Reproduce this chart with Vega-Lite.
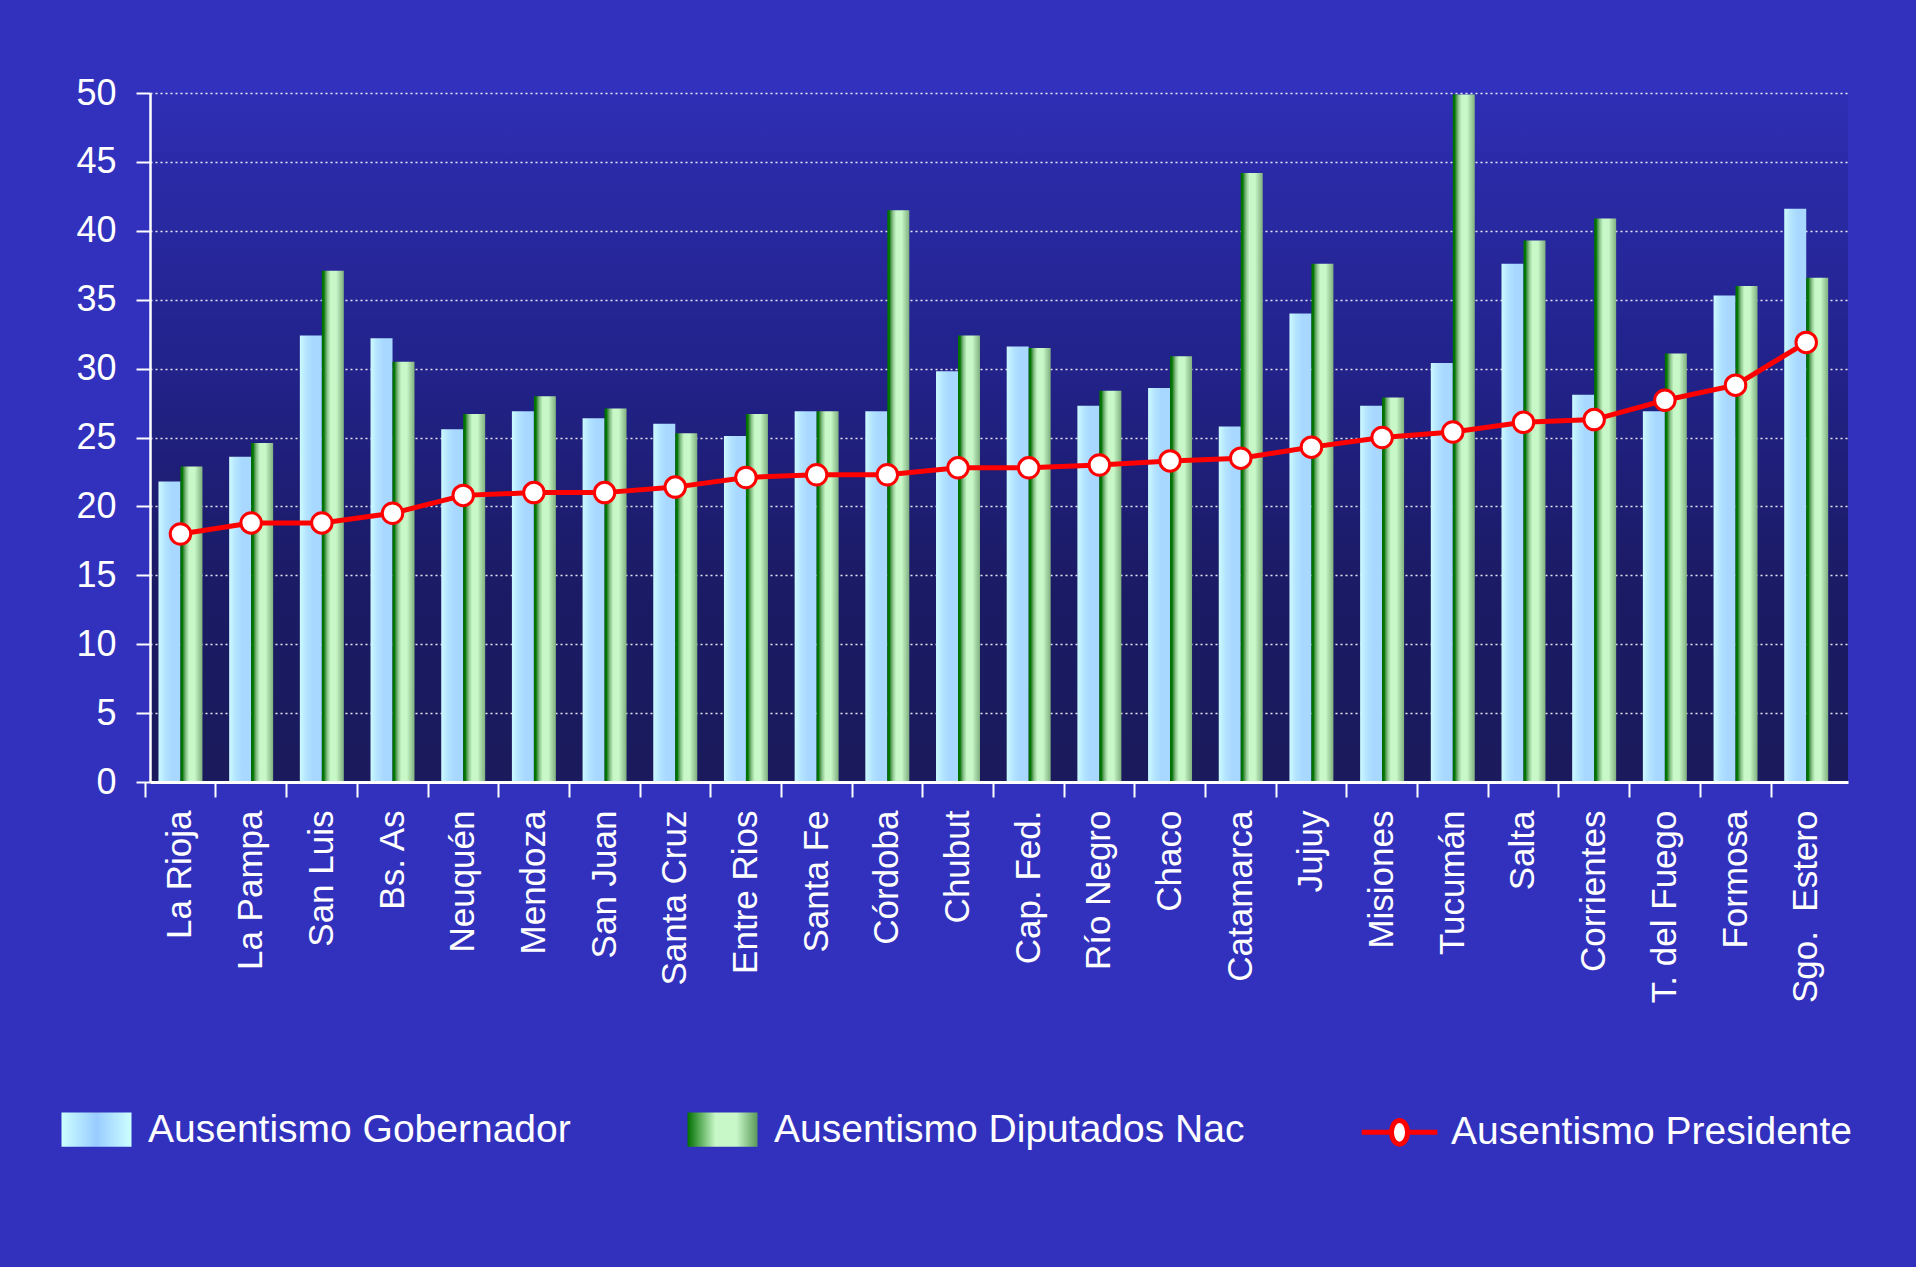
{
  "$schema": "https://vega.github.io/schema/vega-lite/v6.json",
  "width": 1698,
  "height": 689,
  "autosize": {"type": "none"},
  "padding": {"left": 150, "top": 93, "right": 68, "bottom": 485},
  "background": "#3131be",
  "config": {
    "font": "Liberation Sans",
    "view": {
      "stroke": null,
      "fill": {"gradient": "linear", "x1": 0, "y1": 0, "x2": 0, "y2": 1, "stops": [
        {"offset": 0, "color": "#2e2eb4"},
        {"offset": 0.4, "color": "#22228a"},
        {"offset": 0.7, "color": "#1b1b66"},
        {"offset": 1, "color": "#1a1a5c"}
      ]}
    }
  },
  "data": {
    "values": [
      {"prov": "La Rioja", "gob": 21.8, "dip": 22.9, "pres": 18.0},
      {"prov": "La Pampa", "gob": 23.6, "dip": 24.6, "pres": 18.8},
      {"prov": "San Luis", "gob": 32.4, "dip": 37.1, "pres": 18.8},
      {"prov": "Bs. As", "gob": 32.2, "dip": 30.5, "pres": 19.5},
      {"prov": "Neuquén", "gob": 25.6, "dip": 26.7, "pres": 20.8},
      {"prov": "Mendoza", "gob": 26.9, "dip": 28.0, "pres": 21.0},
      {"prov": "San Juan", "gob": 26.4, "dip": 27.1, "pres": 21.0},
      {"prov": "Santa Cruz", "gob": 26.0, "dip": 25.3, "pres": 21.4},
      {"prov": "Entre Rios", "gob": 25.1, "dip": 26.7, "pres": 22.1},
      {"prov": "Santa Fe", "gob": 26.9, "dip": 26.9, "pres": 22.3},
      {"prov": "Córdoba", "gob": 26.9, "dip": 41.5, "pres": 22.3},
      {"prov": "Chubut", "gob": 29.8, "dip": 32.4, "pres": 22.8},
      {"prov": "Cap. Fed.", "gob": 31.6, "dip": 31.5, "pres": 22.8},
      {"prov": "Río Negro", "gob": 27.3, "dip": 28.4, "pres": 23.0},
      {"prov": "Chaco", "gob": 28.6, "dip": 30.9, "pres": 23.3},
      {"prov": "Catamarca", "gob": 25.8, "dip": 44.2, "pres": 23.5},
      {"prov": "Jujuy", "gob": 34.0, "dip": 37.6, "pres": 24.3},
      {"prov": "Misiones", "gob": 27.3, "dip": 27.9, "pres": 25.0},
      {"prov": "Tucumán", "gob": 30.4, "dip": 49.9, "pres": 25.4},
      {"prov": "Salta", "gob": 37.6, "dip": 39.3, "pres": 26.1},
      {"prov": "Corrientes", "gob": 28.1, "dip": 40.9, "pres": 26.3},
      {"prov": "T. del Fuego", "gob": 26.9, "dip": 31.1, "pres": 27.7},
      {"prov": "Formosa", "gob": 35.3, "dip": 36.0, "pres": 28.8},
      {"prov": "Sgo.\u00a0 Estero", "gob": 41.6, "dip": 36.6, "pres": 31.9}
    ]
  },
  "encoding": {
    "x": {
      "field": "prov",
      "type": "nominal",
      "sort": null,
      "scale": {"paddingInner": 0.378, "paddingOuter": 0.2, "align": 0.3},
      "axis": {
        "title": null,
        "labelAngle": -90,
        "labelAlign": "right",
        "labelBaseline": "middle",
        "labelFont": "Liberation Sans",
        "labelFontSize": 35,
        "labelColor": "#ffffff",
        "labelPadding": 13,
        "labelLimit": 0,
        "tickSize": 15,
        "tickColor": "#ffffff",
        "tickWidth": 2,
        "bandPosition": -0.3,
        "domainColor": "#ffffff",
        "domainWidth": 3,
        "grid": false,
        "zindex": 1
      }
    }
  },
  "layer": [
    {
      "transform": [{"fold": ["gob", "dip"], "as": ["serie", "valor"]}],
      "mark": {"type": "bar"},
      "encoding": {
        "xOffset": {"field": "serie", "type": "nominal", "scale": {"domain": ["gob", "dip"], "paddingInner": 0, "paddingOuter": 0}},
        "y": {
          "field": "valor",
          "type": "quantitative",
          "scale": {"domain": [0, 50], "nice": false},
          "axis": {
            "title": null,
            "values": [0, 5, 10, 15, 20, 25, 30, 35, 40, 45, 50],
            "labelFont": "Liberation Sans",
            "labelFontSize": 36,
            "labelColor": "#ffffff",
            "labelPadding": 20,
            "tickSize": 14,
            "tickColor": "#ffffff",
            "tickWidth": 2,
            "domainColor": "#ffffff",
            "domainWidth": 2.5,
            "grid": true,
            "gridColor": "#ffffff",
            "gridDash": [2, 3],
            "gridWidth": 1.5,
            "gridOpacity": 0.9
          }
        },
        "fill": {
          "condition": {
            "test": "datum.serie === 'gob'",
            "value": {"gradient": "linear", "x1": 0, "y1": 0, "x2": 1, "y2": 0, "stops": [
              {"offset": 0, "color": "#ccfaff"},
              {"offset": 0.3, "color": "#b4e4ff"},
              {"offset": 0.6, "color": "#a8d8ff"},
              {"offset": 1, "color": "#a8d8ff"}
            ]}
          },
          "value": {"gradient": "linear", "x1": 0, "y1": 0, "x2": 1, "y2": 0, "stops": [
            {"offset": 0, "color": "#006c00"},
            {"offset": 0.1, "color": "#007a00"},
            {"offset": 0.14, "color": "#3c8c3c"},
            {"offset": 0.26, "color": "#90c890"},
            {"offset": 0.4, "color": "#c8f8c8"},
            {"offset": 0.65, "color": "#c8f8c8"},
            {"offset": 0.8, "color": "#a8d8a8"},
            {"offset": 1, "color": "#80b080"}
          ]}
        },
        "opacity": {
          "field": "serie",
          "type": "nominal",
          "scale": {"type": "ordinal", "domain": ["gob", "dip", "pres"], "range": [1, 1, 1]},
          "legend": {
            "title": null,
            "orient": "none",
            "legendX": -91,
            "legendY": 999,
            "direction": "horizontal",
            "padding": 0,
            "labelFont": "Liberation Sans",
            "labelFontSize": 39,
            "labelColor": "#ffffff",
            "labelOffset": 14,
            "labelLimit": 0,
            "columnPadding": 106,
            "symbolSize": 4900,
            "labelExpr": "datum.value == 'gob' ? 'Ausentismo Gobernador' : datum.value == 'dip' ? 'Ausentismo Diputados Nac' : 'Ausentismo Presidente'",
            "encoding": {
              "symbols": {
                "shape": {"value": {"expr": "datum.value == 'pres' ? 'M-1.08,0H-0.23M0.23,0H1.08M-0.23,0A0.23,0.34,0,1,0,0.23,0A0.23,0.34,0,1,0,-0.23,0Z' : 'M-1,-0.49H1V0.49H-1Z'"}},
                "fill": {"value": {"expr": "datum.value == 'gob' ? {gradient: 'linear', x1: 0, y1: 0, x2: 1, y2: 0, stops: [{offset: 0, color: '#ccffff'}, {offset: 0.5, color: '#99ccff'}, {offset: 1, color: '#ccffff'}]} : datum.value == 'dip' ? {gradient: 'linear', x1: 0, y1: 0, x2: 1, y2: 0, stops: [{offset: 0, color: '#007000'}, {offset: 0.4, color: '#c8f8c8'}, {offset: 0.7, color: '#c8f8c8'}, {offset: 1, color: '#5a9a5a'}]} : '#ffffff'"}},
                "stroke": {"value": {"expr": "datum.value == 'pres' ? '#ff0000' : 'transparent'"}},
                "strokeWidth": {"value": 5},
                "opacity": {"value": 1},
                "size": {"value": 4900}
              }
            }
          }
        }
      }
    },
    {
      "mark": {"type": "line", "color": "#ff0000", "strokeWidth": 5},
      "encoding": {
        "y": {"field": "pres", "type": "quantitative"}
      }
    },
    {
      "mark": {"type": "point", "shape": "circle", "filled": true, "fill": "#ffffff", "stroke": "#ff0000", "strokeWidth": 3, "size": 420, "opacity": 1},
      "encoding": {
        "y": {"field": "pres", "type": "quantitative"}
      }
    }
  ]
}
